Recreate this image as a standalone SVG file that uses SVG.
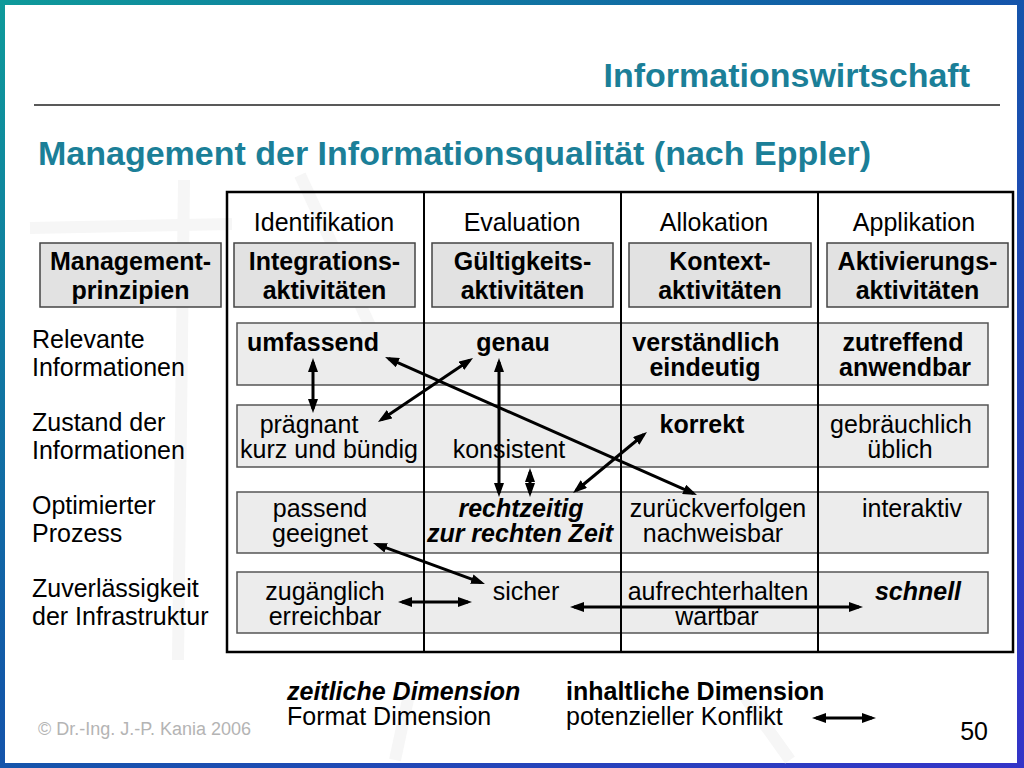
<svg xmlns="http://www.w3.org/2000/svg" width="1024" height="768" viewBox="0 0 1024 768">
<defs>
<linearGradient id="frame" x1="0" y1="0" x2="1" y2="1">
<stop offset="0" stop-color="#0e9a9a"/>
<stop offset="0.45" stop-color="#1258a8"/>
<stop offset="1" stop-color="#3434c8"/>
</linearGradient>
<marker id="ah" viewBox="0 0 14 10" refX="10" refY="5" markerWidth="14" markerHeight="10" orient="auto-start-reverse" markerUnits="userSpaceOnUse">
<path d="M0,0 L14,5 L0,10 z" fill="#000"/>
</marker>
<style>
text{font-family:"Liberation Sans",Arial,sans-serif;font-size:25px;fill:#000}
.title{font-size:34px;font-weight:bold;fill:#1b7f98}
.b{font-weight:bold}
.bi{font-weight:bold;font-style:italic}
.c{text-anchor:middle}
.hbox{fill:#e2e2e2;stroke:#444;stroke-width:1.5}
.rbox{fill:#ececec;stroke:#555;stroke-width:1.5}
.col{stroke:#000;stroke-width:2;fill:none}
.conn line{stroke:#000;stroke-width:3;marker-start:url(#ah);marker-end:url(#ah)}
.wm{stroke:#f6f6f6;stroke-width:12;fill:none}
</style>
</defs>
<rect x="0" y="0" width="1024" height="768" fill="url(#frame)"/>
<rect x="5" y="5" width="1012" height="758" fill="#fff"/>
<g id="watermark">
<path class="wm" d="M184,180 L178,660"/>
<path class="wm" d="M30,228 L232,224"/>
<path class="wm" d="M300,175 L372,330"/>
<path class="wm" d="M410,690 L395,760"/>
<path class="wm" d="M740,690 L790,760"/>
</g>
<text class="title" x="970" y="87" text-anchor="end">Informationswirtschaft</text>
<line x1="34" y1="105" x2="1000" y2="105" stroke="#222" stroke-width="1.5"/>
<text class="title" x="38" y="165">Management der Informationsqualität (nach Eppler)</text>
<g id="table">
<rect x="227" y="192" width="786" height="460" fill="none" stroke="#000" stroke-width="2.5"/>
</g>
<g id="phases">
<text class="c" x="324" y="231">Identifikation</text>
<text class="c" x="522" y="231">Evaluation</text>
<text class="c" x="714" y="231">Allokation</text>
<text class="c" x="914" y="231">Applikation</text>
</g>
<g id="hdr-mgmt"><rect class="hbox" x="40" y="243" width="181" height="64"/><text class="b c" x="130.5" y="270">Management-</text><text class="b c" x="130.5" y="299">prinzipien</text></g>
<g id="hdr-integ"><rect class="hbox" x="234" y="243" width="181" height="64"/><text class="b c" x="324.5" y="270">Integrations-</text><text class="b c" x="324.5" y="299">aktivitäten</text></g>
<g id="hdr-guelt"><rect class="hbox" x="432" y="243" width="181" height="64"/><text class="b c" x="522.5" y="270">Gültigkeits-</text><text class="b c" x="522.5" y="299">aktivitäten</text></g>
<g id="hdr-kontext"><rect class="hbox" x="629" y="243" width="182" height="64"/><text class="b c" x="720" y="270">Kontext-</text><text class="b c" x="720" y="299">aktivitäten</text></g>
<g id="hdr-aktiv"><rect class="hbox" x="827" y="243" width="181" height="64"/><text class="b c" x="917.5" y="270">Aktivierungs-</text><text class="b c" x="917.5" y="299">aktivitäten</text></g>
<g id="rows">
<rect class="rbox" x="237" y="323" width="751" height="62"/>
<rect class="rbox" x="237" y="405" width="751" height="62"/>
<rect class="rbox" x="237" y="492" width="751" height="61"/>
<rect class="rbox" x="237" y="572" width="751" height="61"/>
</g>
<g id="columns">
<line class="col" x1="424" y1="192" x2="424" y2="652"/>
<line class="col" x1="621" y1="192" x2="621" y2="652"/>
<line class="col" x1="818" y1="192" x2="818" y2="652"/>
</g>
<g id="labels">
<text x="32" y="348">Relevante</text><text x="32" y="376">Informationen</text>
<text x="32" y="431">Zustand der</text><text x="32" y="459">Informationen</text>
<text x="32" y="514">Optimierter</text><text x="32" y="542">Prozess</text>
<text x="32" y="597">Zuverlässigkeit</text><text x="32" y="625">der Infrastruktur</text>
</g>
<g id="row1">
<text class="b" x="247" y="351">umfassend</text>
<text class="b c" x="513" y="351">genau</text>
<text class="b c" x="706" y="351">verständlich</text><text class="b c" x="705" y="376">eindeutig</text>
<text class="b c" x="903" y="351">zutreffend</text><text class="b c" x="905" y="376">anwendbar</text>
</g>
<g id="row2">
<text class="c" x="309" y="433">prägnant</text><text class="c" x="329" y="458">kurz und bündig</text>
<text class="c" x="509" y="458">konsistent</text>
<text class="b c" x="702" y="433">korrekt</text>
<text class="c" x="901" y="433">gebräuchlich</text><text class="c" x="900" y="458">üblich</text>
</g>
<g id="row3">
<text class="c" x="320" y="517">passend</text><text class="c" x="320" y="542">geeignet</text>
<text class="bi c" x="521" y="517">rechtzeitig</text><text class="bi c" x="520" y="542">zur rechten Zeit</text>
<text class="c" x="718" y="517">zurückverfolgen</text><text class="c" x="713" y="542">nachweisbar</text>
<text class="c" x="912" y="517">interaktiv</text>
</g>
<g id="row4">
<text class="c" x="325" y="600">zugänglich</text><text class="c" x="325" y="625">erreichbar</text>
<text class="c" x="526" y="600">sicher</text>
<text class="c" x="718" y="600">aufrechterhalten</text><text class="c" x="717" y="625">wartbar</text>
<text class="bi c" x="918" y="600">schnell</text>
</g>
<g id="connectors" class="conn">
<line x1="313" y1="362" x2="313" y2="409"/>
<line x1="469.7" y1="360.2" x2="381.3" y2="419.8"/>
<line x1="388.7" y1="358.6" x2="693.3" y2="493.4"/>
<line x1="499" y1="362" x2="499" y2="493"/>
<line x1="530" y1="472" x2="530" y2="493"/>
<line x1="643.9" y1="434.5" x2="576.1" y2="490.5"/>
<line x1="376.8" y1="544.4" x2="481.2" y2="582.6"/>
<line x1="402" y1="602" x2="468" y2="602"/>
<line x1="574" y1="607" x2="859" y2="607"/>
<line x1="816" y1="718" x2="872" y2="718"/>
</g>
<g id="legend">
<text class="bi" x="287" y="700">zeitliche Dimension</text>
<text class="b" x="566" y="700">inhaltliche Dimension</text>
<text x="287" y="725">Format Dimension</text>
<text x="566" y="725">potenzieller Konflikt</text>
</g>
<text x="38" y="735" style="font-size:18px;fill:#b4b4b4">©  Dr.-Ing. J.-P. Kania 2006</text>
<text x="988" y="740" text-anchor="end">50</text>
</svg>
